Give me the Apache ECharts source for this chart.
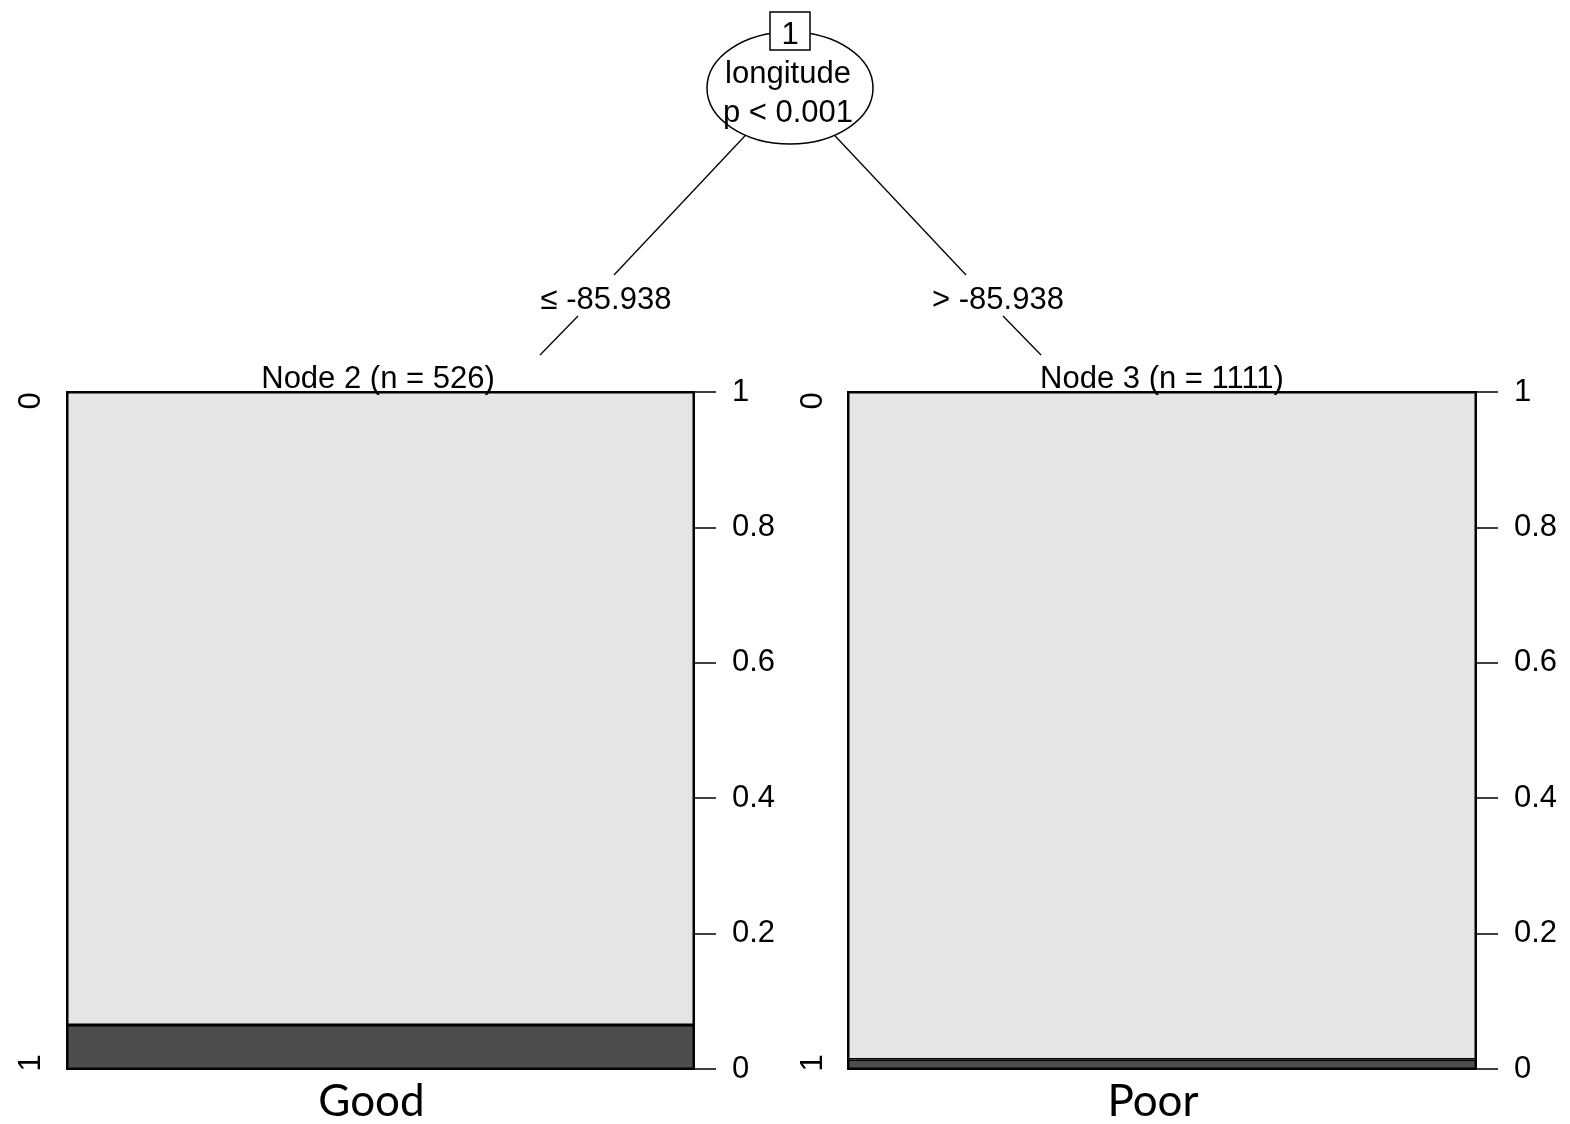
<!DOCTYPE html>
<html>
<head>
<meta charset="utf-8">
<script src="https://cdn.jsdelivr.net/npm/echarts@6/dist/echarts.min.js"></script>
<style>
  html, body { margin: 0; padding: 0; background: #fff; }
  #chart { width: 1570px; height: 1124px; }
</style>
</head>
<body>
<div id="chart"></div>
<script>
// Conditional inference tree: split on longitude, two terminal nodes
const splitVariable = 'longitude';
const splitPValue = 'p < 0.001';
const edgeLabels = ['\u2264 -85.938', '> -85.938'];
const nodeTitles = ['Node 2 (n = 526)', 'Node 3 (n = 1111)'];
const groupNames = ['Good', 'Poor'];
const classLabels = ['0', '1'];
// proportion of each class in the terminal nodes
const class0Share = [0.935, 0.986];
const class1Share = [0.065, 0.014];
const yTicks = [0, 0.2, 0.4, 0.6, 0.8, 1];

const FONT = 'Liberation Sans, Arial, sans-serif';
const FS = 31;
const LIGHT = '#e5e5e5';
const DARK = '#4d4d4d';

const panels = [
  { left: 67, width: 627 },
  { left: 848, width: 628 }
];
const panelTop = 392, panelHeight = 679;

const chart = echarts.init(document.getElementById('chart'), null, { renderer: 'canvas' });

const grids = [], xAxes = [], yAxes = [], series = [];
panels.forEach((p, i) => {
  grids.push({
    left: p.left, top: panelTop, width: p.width, height: panelHeight,
    show: true, backgroundColor: LIGHT, borderColor: '#000', borderWidth: 2
  });
  xAxes.push({
    gridIndex: i, type: 'category', data: [groupNames[i]],
    axisLine: { show: false }, axisTick: { show: false },
    axisLabel: {
      margin: 11, fontFamily: 'Lato, sans-serif', fontSize: 44, color: '#000',
      padding: [0, 18, 0, 0]
    }
  });
  yAxes.push({
    gridIndex: i, type: 'value', position: 'right',
    min: yTicks[0], max: yTicks[yTicks.length - 1], interval: yTicks[1] - yTicks[0],
    splitLine: { show: false },
    axisLine: { show: true, lineStyle: { color: '#000', width: 1.5 } },
    axisTick: { show: true, length: 22, lineStyle: { color: '#000', width: 1.5 } },
    axisLabel: {
      margin: 38, fontFamily: FONT, fontSize: FS, color: '#000',
      padding: [5, 0, 0, 0]
    }
  });
  series.push({
    type: 'bar', xAxisIndex: i, yAxisIndex: i, stack: 'node' + i,
    name: classLabels[1], data: [class1Share[i]],
    barWidth: '100%', barCategoryGap: 0,
    itemStyle: { color: DARK, borderColor: '#000', borderWidth: 1.5 },
    silent: true
  });
  series.push({
    type: 'bar', xAxisIndex: i, yAxisIndex: i, stack: 'node' + i,
    name: classLabels[0], data: [class0Share[i]],
    barWidth: '100%', barCategoryGap: 0,
    itemStyle: { color: LIGHT, borderColor: '#000', borderWidth: 1.5 },
    silent: true
  });
});

const txt = (x, y, s, extra) => Object.assign({
  type: 'text', x: x, y: y,
  style: { text: s, font: FS + 'px ' + FONT, fill: '#000', align: 'center', verticalAlign: 'middle' }
}, extra || {});

const line = (x1, y1, x2, y2) => ({
  type: 'line', shape: { x1, y1, x2, y2 },
  style: { stroke: '#000', lineWidth: 1.3 }, silent: true
});

const graphics = [
  // tree edges
  line(790, 88, 614, 275),
  line(578, 316, 540, 355),
  line(790, 88, 966, 275),
  line(1003, 316, 1041, 355),
  // inner node
  { type: 'ellipse', shape: { cx: 790, cy: 88, rx: 83, ry: 56 },
    style: { fill: '#fff', stroke: '#000', lineWidth: 1.5 }, z: 10 },
  { type: 'rect', shape: { x: 770, y: 12, width: 40, height: 38 },
    style: { fill: '#fff', stroke: '#000', lineWidth: 1.5 }, z: 11 },
  txt(790, 35, '1', { z: 12 }),
  txt(788, 74, splitVariable, { z: 12 }),
  txt(788, 113, splitPValue, { z: 12 }),
  // edge labels
  txt(606, 300, edgeLabels[0], { z: 12 }),
  txt(998, 300, edgeLabels[1], { z: 12 }),
  // terminal node titles
  txt(378, 379, nodeTitles[0], { z: 12 }),
  txt(1162, 379, nodeTitles[1], { z: 12 }),
  // class labels on the left of each panel
  txt(31, 401, classLabels[0], { rotation: Math.PI / 2, z: 12 }),
  txt(31, 1063, classLabels[1], { rotation: Math.PI / 2, z: 12 }),
  txt(813, 401, classLabels[0], { rotation: Math.PI / 2, z: 12 }),
  txt(813, 1063, classLabels[1], { rotation: Math.PI / 2, z: 12 })
];

chart.setOption({
  backgroundColor: '#fff',
  animation: false,
  grid: grids,
  xAxis: xAxes,
  yAxis: yAxes,
  series: series,
  graphic: graphics
});
</script>
</body>
</html>
